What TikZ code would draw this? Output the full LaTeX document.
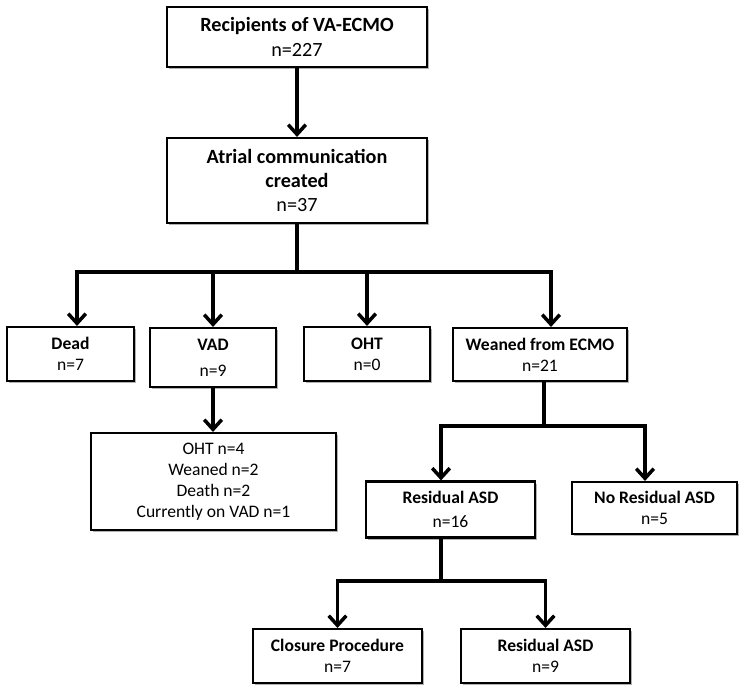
\documentclass[tikz,border=0pt]{standalone}
\usepackage{fontspec}
\setmainfont{Carlito}
\usetikzlibrary{arrows.meta,shadows}

\begin{document}
\begin{tikzpicture}[x=0.02cm, y=-0.02cm,
		box/.style={draw=black, line width=1.2pt, fill=white, align=center, inner sep=0pt,
			drop shadow={shadow xshift=1.3pt, shadow yshift=-1.3pt, opacity=0.3, fill=black},
			font=\fontsize{10}{12}\selectfont},
		bigbox/.style={box, font=\fontsize{11.5}{13.8}\selectfont},
		link/.style={line width=2pt},
		arr/.style={link, -{Straight Barb[length=5.5pt, width=10pt]}}]
			%%%%% START %%%%%
			
			\useasboundingbox (0, 0) rectangle (750, 696);
			
			\node[bigbox, minimum width=5.2cm, minimum height=1.2cm] (recip) at (297, 37) {\textbf{Recipients of VA-ECMO}\\n=227};
			\node[bigbox, minimum width=5.2cm, minimum height=1.7cm] (atrial) at (297, 180.5) {\textbf{Atrial communication}\\\textbf{created}\\n=37};
			
			\node[box, minimum width=2.54cm, minimum height=1.08cm] (dead) at (70.5, 354) {\textbf{Dead}\\n=7};
			\node[box, minimum width=2.52cm, minimum height=1.18cm] (vad) at (213, 357.5) {\textbf{VAD}\\[3pt]n=9};
			\node[box, minimum width=2.52cm, minimum height=1.08cm] (oht) at (367, 354) {\textbf{OHT}\\n=0};
			\node[box, minimum width=3.48cm, minimum height=1.06cm] (weaned) at (540, 354.5) {\textbf{Weaned from ECMO}\\n=21};
			
			\node[box, minimum width=4.9cm, minimum height=1.94cm] (vadout) at (213.5, 481.5) {OHT n=4\\Weaned n=2\\Death n=2\\Currently on VAD n=1};
			
			\node[box, minimum width=3.38cm, minimum height=1.12cm] (resid) at (450.5, 509.5) {\textbf{Residual ASD}\\[2pt]n=16};
			\node[box, minimum width=3.3cm, minimum height=1.04cm] (nores) at (654.5, 508) {\textbf{No Residual ASD}\\n=5};
			
			\node[box, minimum width=3.38cm, minimum height=1.08cm] (closure) at (337.5, 656) {\textbf{Closure Procedure}\\n=7};
			\node[box, minimum width=3.38cm, minimum height=1.08cm] (resid2) at (545.5, 656) {\textbf{Residual ASD}\\n=9};
			
			\coordinate (j1) at (297, 272);
			\coordinate (j2) at (544, 426);
			\coordinate (j3) at (441, 581);
			
			\draw[arr] (recip) -- (atrial);
			
			\draw[link] (atrial) -- (j1);
			\draw[arr] (j1) -| ([xshift=0.13cm]dead.north);
			\draw[arr] (j1) -| ([xshift=0.22cm]weaned.north);
			\draw[arr] (j1 -| vad.north) -- (vad.north);
			\draw[arr] (j1 -| oht.north) -- (oht.north);
			
			\draw[arr] (vad.south) -- (vad.south |- vadout.north);
			
			\draw[link] (weaned.south -| j2) -- (j2);
			\draw[arr] (j2) -| ([xshift=-0.19cm]resid.north);
			\draw[arr] (j2) -| ([xshift=-0.19cm]nores.north);
			
			\draw[link] (resid.south -| j3) -- (j3);
			\draw[arr] (j3) -| (closure.north);
			\draw[arr] (j3) -| (resid2.north);
			
			%%%%% END %%%%%
		\end{tikzpicture}
\end{document}
